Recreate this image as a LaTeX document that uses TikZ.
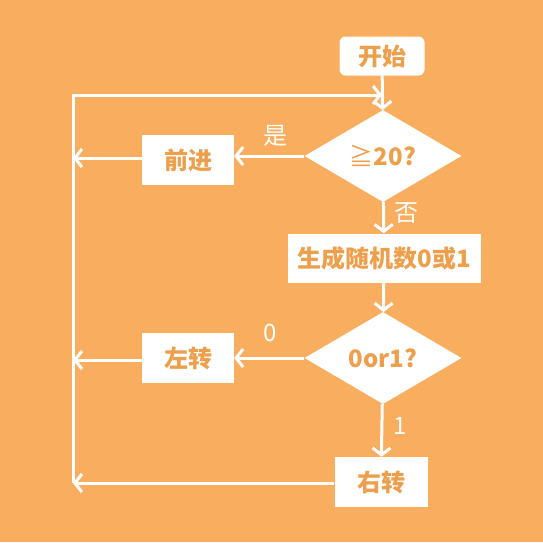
\documentclass[tikz,border=0pt]{standalone}
\usepackage{fontspec}
\newfontfamily\cjk{Noto Sans CJK SC}
\usetikzlibrary{arrows.meta,positioning,shapes.geometric}
\definecolor{Peach}{HTML}{F8AD5F}
\definecolor{Amber}{HTML}{EE9F4C}
\begin{document}
\begin{tikzpicture}[x=1pt,y=-1pt,
    every node/.style={align=center,font=\cjk\bfseries\fontsize{24}{28}\selectfont,text=Amber},
    box/.style={fill=white,inner sep=0pt,minimum width=92pt,minimum height=50pt},
    choice/.style={diamond,fill=white,inner sep=0pt,aspect=1.7,minimum width=157pt,minimum height=92pt},
    flow/.style={-{Straight Barb[length=7pt,width=18pt]},line width=3pt,white},
    tag/.style={font=\cjk\fontsize{24}{28}\selectfont,text=white}]
      \fill[Peach] (0,0) rectangle (543,542);

      \node[box,rounded corners=6pt,minimum width=85pt,minimum height=39pt] (start) at (382,56) {开始};
      \node[choice] (count) at (383,156) {\mdseries≧\bfseries20?};
      \node[box] (forward) at (188,160) {前进};
      \node[box,minimum width=193pt,minimum height=49pt] (random) at (384,258) {生成随机数0或1};
      \node[choice] (pick) at (383,358) {0or1?};
      \node[box] (left) at (188,358) {左转};
      \node[box,minimum width=93pt] (right) at (381,482) {右转};

      \coordinate (join) at (382,95);
      \coordinate (top) at (73,95);
      \coordinate (bottom) at (73,483);
      \coordinate (mid1) at (73,158);
      \coordinate (mid2) at (73,360);

      \draw[flow] (start) -- (count);
      \draw[flow] (count) -- (random);
      \draw[flow] (random) -- (pick);
      \draw[flow] (pick) -- (right);
      \draw[flow] (count.west) -- (forward.east |- count.west);
      \draw[flow] (pick.west) -- (left.east |- pick.west);
      \draw[flow] (forward.west |- mid1) -- (mid1);
      \draw[flow] (left.west |- mid2) -- (mid2);
      \draw[flow] (right.west |- bottom) -- (bottom);
      \draw[flow,line join=miter] (bottom) -- (top) -- (join);

      \node[tag] (yes) at (275,136) {是};
      \node[tag] (no) at (406,213) {否};
      \node[tag] (zero) at (270,333) {0};
      \node[tag] (one) at (400,426) {1};
    \end{tikzpicture}
\end{document}
